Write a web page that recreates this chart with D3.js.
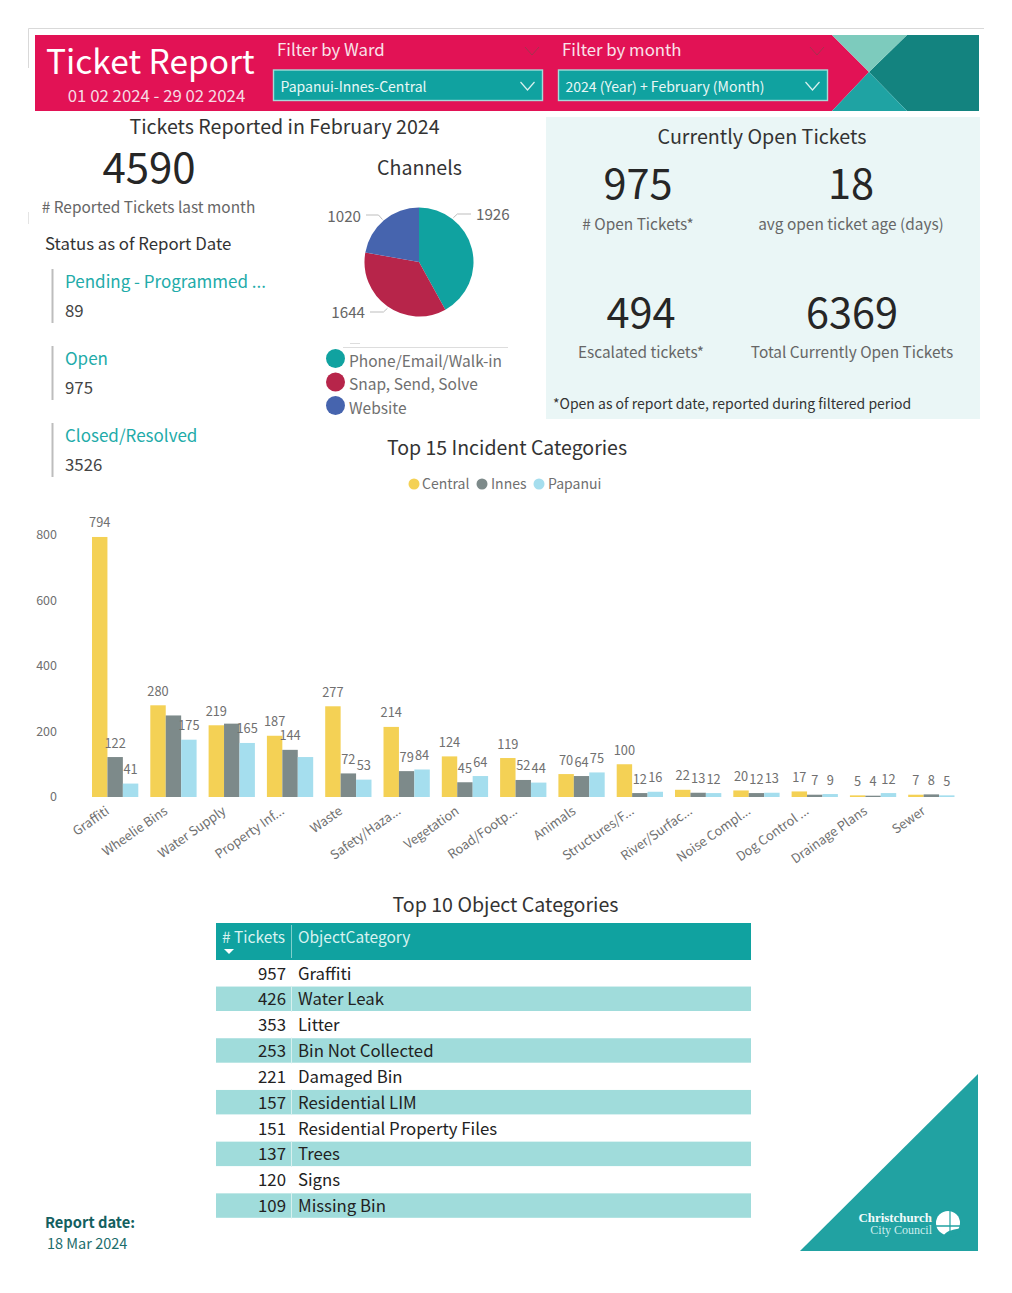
<!doctype html>
<html>
<head>
<meta charset="utf-8"/>
<title>Ticket Report</title>
<script src="https://d3js.org/d3.v7.min.js"></script>
<style>
body { margin:0; background:#fff; }
text { font-family:"Noto Sans CJK SC","Noto Sans",sans-serif; }
</style>
</head>
<body>
<script>
// values
var categories = ["Graffiti","Wheelie Bins","Water Supply","Property Inf...","Waste","Safety/Haza...","Vegetation","Road/Footp...","Animals","Structures/F...","River/Surfac...","Noise Compl...","Dog Control ...","Drainage Plans","Sewer"];
var central = [794,280,219,187,277,214,124,119,70,100,22,20,17,5,7];
var innes   = [122,249,224,144,72,79,45,52,64,12,13,12,7,4,8];
var papanui = [41,175,165,122,53,84,64,44,75,16,12,13,9,12,5];
var wards = ["Central","Innes","Papanui"];
var wardColors = ["#F4D155","#7D8A8A","#A5DEEE"];
// labels the report itself drops because of overlap: [category index, ward index]
var hiddenLabels = [[1,1],[2,1],[3,2]];
var yTicks = [0,200,400,600,800];

var channels = ["Phone/Email/Walk-in","Snap, Send, Solve","Website"];
var channelValues = [1926,1644,1020];
var channelColors = ["#10A2A0","#B7254A","#4664AE"];

var statusNames = ["Pending - Programmed ...","Open","Closed/Resolved"];
var statusValues = [89,975,3526];

var objectCategories = ["Graffiti","Water Leak","Litter","Bin Not Collected","Damaged Bin","Residential LIM","Residential Property Files","Trees","Signs","Missing Bin"];
var objectTickets = [957,426,353,253,221,157,151,137,120,109];

var svg = d3.select("body").append("svg")
  .attr("width",1012).attr("height",1293)
  .style("display","block");

function txt(x,y,s,size,color,anchor,weight){
  return svg.append("text").attr("x",x).attr("y",y).text(s)
    .attr("font-size",size).attr("fill",color)
    .attr("text-anchor",anchor||"start")
    .attr("font-weight",weight||400);
}
function poly(pts,fill){
  return svg.append("polygon").attr("points",pts.join(" ")).attr("fill",fill);
}
function chevron(x,y,w,h,color,sw){
  svg.append("path").attr("d",d3.line()([[x,y],[x+w/2,y+h],[x+w,y]]))
    .attr("fill","none").attr("stroke",color).attr("stroke-width",sw||1);
}

// page frame scraps
svg.append("path").attr("d","M28.5 68V28.5H984").attr("fill","none").attr("stroke","#d9d9d9").attr("stroke-width",1);
svg.append("path").attr("d","M28.5 212V224").attr("fill","none").attr("stroke","#e4e4e4").attr("stroke-width",1);

// banner
poly(["35,35","832,35","869,72","832,111","35,111"],"#E21255");
poly(["907,35","979,35","979,111","907,111","869,72"],"#13837F");
poly(["832,35","907,35","869,72"],"#7DCBBD");
poly(["832,111","907,111","869,72"],"#1FA3A3");
txt(46,74,"Ticket Report",33.5,"#fff");
txt(156.5,102,"01 02 2024 - 29 02 2024",16.8,"#f6dbe4","middle");
txt(277,56.3,"Filter by Ward",16.8,"#f9e3ea");
txt(562,56.3,"Filter by month",16.8,"#f9e3ea");
chevron(525,47,14,8,"#a5324f");
chevron(810,47,14,8,"#a5324f");

var filters = [[273.5,"Papanui-Innes-Central"],[558.5,"2024 (Year) + February (Month)"]];
filters.forEach(function(f){
  svg.append("rect").attr("x",f[0]).attr("y",70).attr("width",269).attr("height",30.5)
    .attr("fill","#10A2A0").attr("stroke","#A4DCD8").attr("stroke-width",1.4);
  txt(f[0]+7,91.5,f[1],14,"#e9f7f6");
  chevron(f[0]+247,82,14,8,"#d8f1ef",1.2);
});

// left block
txt(284.5,133.7,"Tickets Reported in February 2024",19.6,"#333","middle");
txt(149,182.5,"4590",42,"#262626","middle");
txt(148.5,213,"# Reported Tickets last month",15.4,"#666","middle");
txt(45,250,"Status as of Report Date",16.8,"#333");

statusNames.forEach(function(s,i){
  var top = 269 + i*77;
  svg.append("rect").attr("x",51.5).attr("y",top).attr("width",2).attr("height",54).attr("fill","#bdbdbd");
  txt(65,top+18.8,s,17,"#22ABA9");
  txt(65,top+47.8,statusValues[i],16.8,"#444");
});

// pie
txt(419.5,175,"Channels",19.6,"#333","middle");
var pieG = svg.append("g").attr("transform","translate(419,262)");
var arcs = d3.pie().sort(null)(channelValues);
var arc = d3.arc().innerRadius(0).outerRadius(54.5);
pieG.selectAll("path").data(arcs).join("path")
  .attr("d",arc).attr("fill",function(d,i){return channelColors[i];});

// leader lines: rim angle, elbow, then out to the label
var leaderAngle = [0.66,3.74,-0.71];
var leaderSide = [1,-1,-1];
var leaderEndX = [471,370,366];
var leaderY = [214,312,215];
var labelPos = [[476,220,"start"],[365,318,"end"],[361,222,"end"]];
arcs.forEach(function(d,i){
  var ex = 419 + 56*Math.sin(leaderAngle[i]), ey = 262 - 56*Math.cos(leaderAngle[i]);
  svg.append("path").attr("d",d3.line()([[ex,ey],[ex+leaderSide[i]*4,leaderY[i]],[leaderEndX[i],leaderY[i]]]))
    .attr("fill","none").attr("stroke","#bdbdbd").attr("stroke-width",1);
  txt(labelPos[i][0],labelPos[i][1],d.value,15.2,"#666",labelPos[i][2]);
});

// pie legend
svg.append("path").attr("d","M343 347.5H508M350 343.5H360").attr("stroke","#ddd").attr("stroke-width",1);
channels.forEach(function(c,i){
  var y = 358.5 + i*23.5;
  svg.append("circle").attr("cx",335.5).attr("cy",y).attr("r",9.5).attr("fill",channelColors[i]);
  txt(349,y+8,c,15.5,"#707070");
});

// currently open panel
svg.append("rect").attr("x",546).attr("y",117).attr("width",434).attr("height",302).attr("fill","#EAF6F6");
txt(762,144,"Currently Open Tickets",19.7,"#333","middle");
var kpiNumbers = [["975",638,199.3],["18",851,199.3],["494",641,327.8],["6369",852,327.8]];
var kpiLabels = ["# Open Tickets*","avg open ticket age (days)","Escalated tickets*","Total Currently Open Tickets"];
kpiNumbers.forEach(function(k,i){
  txt(k[1],k[2],k[0],41.5,"#262626","middle");
  txt(k[1],k[2]+30.4,kpiLabels[i],15.4,"#666","middle");
});
txt(553,409,"*Open as of report date, reported during filtered period",14,"#333");

// bar chart
txt(507,454.7,"Top 15 Incident Categories",19.5,"#333","middle");
var legendX = [[414,422],[482,491],[539,548]];
wards.forEach(function(w,i){
  svg.append("circle").attr("cx",legendX[i][0]).attr("cy",484).attr("r",5.5).attr("fill",wardColors[i]);
  txt(legendX[i][1],489,w,14,"#707070");
});

var x0 = d3.scaleBand().domain(categories).range([86,960.5]).paddingInner(0.206).paddingOuter(0.103);
var x1 = d3.scaleBand().domain(wards).range([0,x0.bandwidth()]);
var y = d3.scaleLinear().domain([0,800]).range([797,535]);
var series = [central,innes,papanui];

var yAxis = d3.axisLeft(y).tickValues(yTicks).tickSize(0).tickPadding(0);
var yG = svg.append("g").attr("transform","translate(57,-0.5)").call(yAxis);
yG.select(".domain").remove();
yG.selectAll("text").attr("font-size",12.5).attr("fill","#707070").attr("font-family",null);

var groups = svg.selectAll("g.ward").data(series).join("g").attr("class","ward");
groups.each(function(vals,s){
  var g = d3.select(this);
  g.selectAll("rect").data(vals).join("rect")
    .attr("x",function(d,i){return x0(categories[i])+x1(wards[s]);})
    .attr("y",function(d){return y(d);})
    .attr("width",x1.bandwidth())
    .attr("height",function(d){return y(0)-y(d);})
    .attr("fill",wardColors[s]);
});
series.forEach(function(vals,s){
  vals.forEach(function(d,i){
    if(hiddenLabels.some(function(h){return h[0]==i && h[1]==s;})) return;
    txt(x0(categories[i])+x1(wards[s])+x1.bandwidth()/2,y(d)-9.5,d,12.8,"#707070","middle");
  });
});

var xAxis = d3.axisBottom(x0).tickSize(0).tickPadding(0);
var xG = svg.append("g").attr("transform","translate(0,797)").call(xAxis);
xG.select(".domain").remove();
xG.selectAll("text")
  .attr("font-size",12.8).attr("fill","#707070").attr("font-family",null)
  .attr("text-anchor","end").attr("dy",null).attr("y",0).attr("x",0)
  .attr("transform","translate(-5,16) rotate(-35)");

// table
txt(505.5,912,"Top 10 Object Categories",19.6,"#333","middle");
svg.append("rect").attr("x",216).attr("y",923).attr("width",535).attr("height",37).attr("fill","#10A2A0");
svg.append("path").attr("d","M291.5 925V958").attr("stroke","#7fcfcc").attr("stroke-width",1);
txt(222,942.5,"# Tickets",15.5,"#d8f2f0");
txt(298,942.5,"ObjectCategory",15.5,"#d8f2f0");
poly(["224,949","234,949","229,954"],"#fff");

var rowY = d3.scaleBand().domain(d3.range(objectTickets.length)).range([960,1218.5]);
objectTickets.forEach(function(v,i){
  var yy = rowY(i);
  if(i%2==1){
    svg.append("rect").attr("x",216).attr("y",yy+0.7).attr("width",535).attr("height",rowY.bandwidth()-1.4).attr("fill","#A0DCDB");
    svg.append("path").attr("d","M291.5 "+yy+"v"+rowY.bandwidth()).attr("stroke","#d8f0ef").attr("stroke-width",1);
  }
  txt(286,yy+19.5,v,16.8,"#222","end");
  txt(298,yy+19.5,objectCategories[i],16.8,"#222");
});

// report date
txt(45,1228,"Report date:",14.7,"#14605F","start",700);
txt(47,1249,"18 Mar 2024",14.5,"#1d6d6c");

// logo
poly(["978,1074","978,1251","800,1251"],"#21A2A2");
svg.append("text").attr("x",932).attr("y",1222).attr("text-anchor","end").text("Christchurch")
  .attr("font-size",12.9).attr("font-weight",700).attr("fill","#f2fbfb").style("font-family","'Liberation Serif',serif");
svg.append("text").attr("x",932).attr("y",1234).attr("text-anchor","end").text("City Council")
  .attr("font-size",12).attr("fill","#cdeeee").style("font-family","'Liberation Serif',serif");
svg.append("circle").attr("cx",948).attr("cy",1223).attr("r",12).attr("fill","#fff");
svg.append("path").attr("d","M936 1226H960").attr("stroke","#21A2A2").attr("stroke-width",1.5);
svg.append("path").attr("d","M950 1211V1235").attr("stroke","#21A2A2").attr("stroke-width",1.2);
svg.append("path").attr("d","M944 1235C948 1230 953 1230 961 1228L960 1232L952 1237Z").attr("fill","#21A2A2");
</script>
</body>
</html>
